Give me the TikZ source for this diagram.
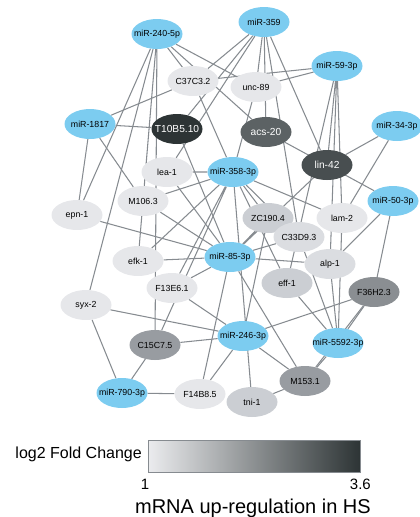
\documentclass[tikz,border=0pt]{standalone}
\usepackage{fontspec}
\setmainfont{Liberation Sans}
\usetikzlibrary{shapes.geometric}
\pgfdeclarelayer{bg}
\pgfsetlayers{bg,main}
\definecolor{mirblue}{RGB}{124,204,240}
\definecolor{gA}{RGB}{230,231,234}
\definecolor{gB}{RGB}{219,221,225}
\definecolor{gC}{RGB}{203,206,211}
\definecolor{gD}{RGB}{152,156,161}
\definecolor{gE}{RGB}{138,142,146}
\definecolor{gF}{RGB}{92,98,100}
\definecolor{gG}{RGB}{72,78,80}
\definecolor{gH}{RGB}{45,52,53}
\definecolor{edgegray}{RGB}{134,139,144}
\tikzset{gene/.style={ellipse,minimum width=51pt,minimum height=30pt,inner sep=0pt,fill=#1,
                      font=\fontsize{8.8}{10}\selectfont,
                      execute at begin node={\hbox to 0pt\bgroup\hss},execute at end node={\hss\egroup}},
         gene/.default=gA,
         mir/.style={gene=mirblue},
         dark/.style={gene=#1,text=white,font=\fontsize{10.2}{12}\selectfont},
         link/.style={draw=edgegray,line width=1.05pt},
        }

\begin{document}
\begin{tikzpicture}[x=1pt,y=-1pt]
        \useasboundingbox(0,0)rectangle(420,517);
        \node[mir](m240)at(157,34){miR-240-5p};
        \node[mir](m359)at(264,22){miR-359};
        \node[mir](m59)at(337,66){miR-59-3p};
        \node[mir](m1817)at(90,124){miR-1817};
        \node[mir](m34)at(397,126){miR-34-3p};
        \node[mir](m358)at(233,172){miR-358-3p};
        \node[mir](m50)at(393,201){miR-50-3p};
        \node[mir](m85)at(230,257){miR-85-3p};
        \node[mir](m246)at(243,336){miR-246-3p};
        \node[mir](m5592)at(338,343){miR-5592-3p};
        \node[mir](m790)at(122,393){miR-790-3p};

        \node[gene](c37c)at(193,81){C37C3.2};
        \node[gene](unc89)at(256,87){unc-89};
        \node[dark=gH](t10b)at(177,129){T10B5.10};
        \node[dark=gF](acs20)at(266,132){acs-20};
        \node[dark=gG](lin42)at(327,165){lin-42};
        \node[gene](lea1)at(167,172){lea-1};
        \node[gene](m106)at(143,201){M106.3};
        \node[gene](epn1)at(77,215){epn-1};
        \node[gene=gC](zc190)at(268,218){ZC190.4};
        \node[gene](lam2)at(342,218){lam-2};
        \node[gene=gB](c33d)at(299,237){C33D9.3};
        \node[gene](efk1)at(138,261){efk-1};
        \node[gene=gB](alp1)at(330,264){alp-1};
        \node[gene=gC](eff1)at(287,283){eff-1};
        \node[gene](f13e)at(172,288){F13E6.1};
        \node[gene=gE](f36h)at(374,292){F36H2.3};
        \node[gene](syx2)at(86,305){syx-2};
        \node[gene=gD](c15c)at(155,345){C15C7.5};
        \node[gene=gD](m153)at(305,381){M153.1};
        \node[gene](f14b)at(200,394){F14B8.5};
        \node[gene=gC](tni1)at(252,402){tni-1};

        \begin{pgfonlayer}{bg}
        \draw[link](m240)--(epn1)(m240)--(syx2)(m240)--(efk1)(m240)--(m106)(m240)--(c15c)(m240)--(c37c)(m240)--(unc89)(m240)--(acs20);
        \draw[link](m1817)--(c37c)(m1817)--(t10b)(m1817)--(epn1)(m1817)--(m106);
        \draw[link](m359)--(c37c)(m359)--(t10b)(m359)--(lea1)(m359)--(unc89)(m359)--(acs20)(m359)--(c33d)(m359)--(lin42);
        \draw[link](m59)--(c37c)(m59)--(unc89)(m59)--(lin42)(m59)--(eff1)(m59)--(alp1)(m59)--(lam2);
        \draw[link](m34)--(lin42)(m34)--(lam2);
        \draw[link](m50)--(acs20)(m50)--(alp1)(m50)--(f36h);
        \draw[link](m358)--(lea1)(m358)--(m106)(m358)--(efk1)(m358)--(f13e)(m358)--(c15c)(m358)--(lam2)(m358)--(zc190)(m358)--(c33d)(m358)--(unc89)(m358)--(c37c)(m358)--(eff1)(m358)--(tni1);
        \draw[link](m85)--(epn1)(m85)--(m106)(m85)--(efk1)(m85)--(f13e)(m85)--(lea1)(m85)--(zc190)(m85)--(c33d)(m85)--(alp1)(m85)--(f14b)(m85)--(m153)(m85)--(t10b)(m85)--(lin42);
        \draw[link](m246)--(syx2)(m246)--(c15c)(m246)--(f13e)(m246)--(f36h)(m246)--(m153)(m246)--(f14b)(m246)--(zc190);
        \draw[link](m5592)--(f36h)(m5592)--(eff1)(m5592)--(c33d)(m5592)--(alp1)(m5592)--(lam2)(m5592)--(m153);
        \draw[link](m790)--(syx2)(m790)--(c15c)(m790)--(f14b);
        \draw[link](tni1)--(m153)(f36h)--(m153);
        \end{pgfonlayer}

        \shade[left color=gA!80!white,right color=gH,draw=edgegray,line width=0.5pt](148,440)rectangle(360,472);
        \node[anchor=base east,inner sep=0pt,font=\fontsize{16}{18}\selectfont](fc)at(142,458){log2 Fold Change};
        \node[anchor=base,inner sep=0pt,font=\fontsize{15}{17}\selectfont](lo)at(145,489){1};
        \node[anchor=base east,inner sep=0pt,font=\fontsize{15}{17}\selectfont](hi)at(371,489){3.6};
        \node[anchor=base east,inner sep=0pt,font=\fontsize{20}{22}\selectfont](hs)at(371,513){mRNA up-regulation in HS};
    \end{tikzpicture}
\end{document}
